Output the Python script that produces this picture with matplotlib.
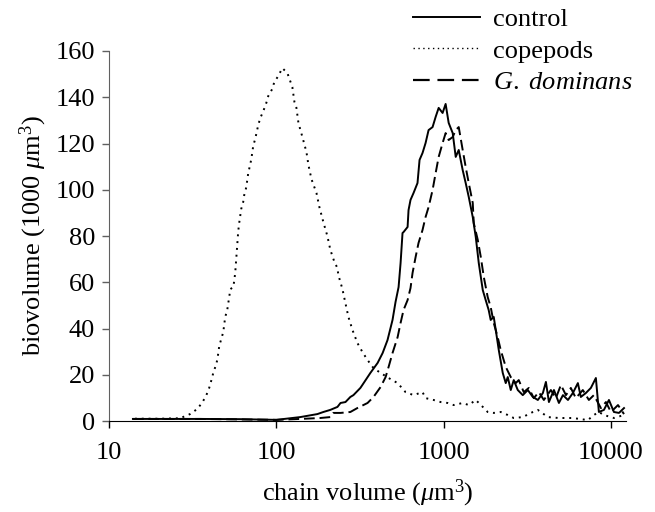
import matplotlib
matplotlib.use('Agg')
import matplotlib.pyplot as plt
from matplotlib.lines import Line2D

plt.rcParams['font.family'] = ['Liberation Serif', 'DejaVu Serif']
plt.rcParams['mathtext.fontset'] = 'custom'
plt.rcParams['mathtext.rm'] = 'Liberation Serif'
plt.rcParams['mathtext.it'] = 'Liberation Serif:italic'

# chain volume (um^3) and biovolume (1000 um^3)
control_x = [13.9, 20.2, 35.1, 60.8, 100, 139, 176, 191, 210, 232, 242, 259, 277, 289,
             318, 327, 365, 403, 432, 462, 495, 516, 538, 553, 568, 576, 609, 617, 634,
             661, 698, 718, 748, 780, 813, 859, 896, 934, 986, 1028, 1072, 1133, 1181,
             1231, 1300, 1355, 1413, 1493, 1556, 1622, 1714, 1784, 1859, 1911, 1993,
             2049, 2136, 2256, 2351, 2417, 2519, 2625, 2774, 2972, 3185, 3413, 3657,
             3919, 4086, 4259, 4564, 4887, 5166, 5535, 5921, 6345, 6607, 7079, 7586,
             8128, 8472, 9078, 9727, 10420, 11170, 11970]
control_y = [0.9, 0.9, 0.9, 0.8, 0.5, 1.7, 3.0, 3.9, 4.8, 6.1, 7.8, 8.2, 10.4, 11.2,
             14.3, 15.6, 20.8, 25.1, 29.4, 35.0, 43.7, 51.5, 57.9, 68.3, 81.3, 81.7,
             83.9, 91.2, 95.6, 98.6, 102.9, 112.9, 115.9, 120.2, 125.8, 127.1, 131.5,
             135.4, 133.2, 137.1, 128.9, 124.5, 114.2, 117.2, 108.5, 102.9, 96.9, 88.2,
             79.6, 68.3, 56.6, 52.3, 48.0, 43.7, 45.0, 39.4, 30.7, 20.8, 16.4, 19.0,
             13.4, 17.7, 13.4, 11.2, 13.4, 10.4, 9.1, 12.1, 16.9, 8.2, 13.4, 7.8, 11.2,
             9.1, 12.1, 16.4, 10.4, 12.1, 14.3, 18.6, 3.9, 4.8, 9.1, 3.9, 3.5, 5.6]

copepods_x = [14.3, 20.2, 26.6, 30.5, 33.7, 36.1, 38.1, 39.7, 40.8, 42.0, 43.2, 44.4,
              45.6, 46.9, 48.2, 49.5, 50.9, 52.4, 53.1, 55.4, 56.1, 56.8, 57.6, 58.4,
              59.2, 60.0, 61.7, 63.4, 64.3, 66.1, 67.9, 70.8, 72.8, 74.8, 78.0, 80.2,
              83.6, 87.1, 89.5, 94.6, 97.3, 102.8, 108.6, 116.4, 124.7, 128.3, 131.9,
              135.6, 143.2, 151.4, 155.6, 162.2, 173.8, 180.9, 191.1, 201.9, 210.4,
              222.4, 231.7, 235.0, 248.3, 258.8, 269.8, 285.1, 305.5, 327.3, 350.8,
              380.8, 419.8, 468.8, 531, 592, 661, 748, 780, 871, 960, 1057, 1148, 1300,
              1413, 1556, 1714, 1834, 1993, 2194, 2417, 2625, 2972, 3413, 3657, 4199,
              4887, 5921, 7280, 7907, 8472, 9078, 10420, 11970]
copepods_y = [1.0, 1.0, 1.2, 3.0, 5.2, 8.0, 11.0, 14.3, 17.3, 20.8, 23.4, 26.4, 32.4,
              35.5, 38.5, 45.0, 48.0, 54.0, 57.0, 58.0, 61.0, 64.0, 70.0, 76.0, 82.0,
              85.6, 91.7, 94.7, 97.7, 101.0, 107.0, 113.0, 119.0, 122.0, 128.0, 131.0,
              134.0, 137.5, 140.5, 143.6, 146.6, 149.2, 152.6, 150.5, 144.4, 138.0,
              135.4, 128.9, 122.8, 116.3, 110.7, 104.6, 98.6, 92.5, 86.0, 80.0, 74.0,
              68.8, 66.2, 63.1, 57.1, 51.0, 45.0, 39.4, 33.7, 29.8, 26.4, 22.9, 20.8,
              18.6, 16.4, 12.5, 11.2, 12.5, 9.9, 9.1, 8.2, 7.8, 6.9, 7.8, 6.9, 9.1, 6.1,
              3.9, 3.5, 3.9, 2.6, 1.3, 1.7, 3.9, 4.8, 1.7, 1.3, 1.3, 0.4, 2.6, 3.9, 2.6,
              1.3, 2.6]

dominans_x = [13.9, 35.1, 100, 139, 183, 210, 219, 242, 277, 305, 351, 381, 420, 450,
              469, 495, 531, 553, 576, 609, 634, 652, 680, 708, 748, 780, 813, 859, 896,
              934, 986, 1028, 1072, 1133, 1181, 1231, 1300, 1355, 1413, 1493, 1514,
              1600, 1668, 1738, 1834, 1911, 1993, 2104, 2194, 2351, 2519, 2698, 2812,
              3013, 3228, 3459, 3707, 3972, 4375, 4688, 5023, 5383, 5758, 6170, 6792,
              7380, 7907, 8710, 9333, 10000, 11020, 11970]
dominans_y = [0.9, 0.9, 0.5, 0.9, 1.3, 1.7, 3.5, 3.5, 3.9, 5.6, 7.8, 10.4, 14.7, 19.0,
              23.4, 29.4, 36.3, 42.4, 48.0, 52.3, 57.5, 64.0, 70.9, 77.0, 82.6, 88.2,
              92.5, 99.9, 107.2, 114.2, 120.2, 124.5, 121.5, 122.8, 125.8, 127.1, 117.2,
              109.8, 102.9, 94.3, 85.6, 78.3, 70.9, 62.3, 53.6, 49.3, 42.4, 36.3, 30.7,
              23.4, 19.0, 16.4, 17.7, 12.5, 14.3, 9.9, 12.5, 9.1, 13.4, 9.9, 15.6, 11.2,
              14.3, 9.9, 13.4, 9.1, 11.2, 5.6, 8.2, 3.9, 6.9, 3.0]

yticks = [0, 20, 40, 60, 80, 100, 120, 140, 160]
xticks = [10, 100, 1000, 10000]
xticklabels = ['10', '100', '1000', '10000']
labels = ['control', 'copepods', '$\\it{G.\\ dominans}$']

fs = 19

fig = plt.figure(figsize=(6.55, 5.12), dpi=100)
ax = fig.add_axes([0.1664, 0.1777, 0.7893, 0.7227])

ax.plot(control_x, control_y, color='black', lw=1.4)
ax.plot(copepods_x, copepods_y, color='black', lw=1.4, linestyle=(0, (1, 2.5)))
ax.plot(dominans_x, dominans_y, color='black', lw=1.4, linestyle=(0, (5.5, 2.5)))

ax.set_xscale('log')
ax.set_xlim(10, 12300)
ax.set_ylim(0, 160)
ax.set_xticks(xticks)
ax.set_xticklabels(xticklabels)
ax.minorticks_off()
ax.set_yticks(yticks)

for side in ['top', 'right']:
    ax.spines[side].set_visible(False)
ax.spines['left'].set_color('#606060')
ax.spines['bottom'].set_color('black')
ax.tick_params(axis='both', labelsize=fs, direction='out', length=5, width=1)
ax.tick_params(axis='x', pad=10)
ax.tick_params(axis='y', pad=5, color='#606060')

ax.set_xlabel('chain volume ($\\mu$m$^3$)', fontsize=fs, labelpad=10)
ax.set_ylabel('biovolume (1000 $\\mu$m$^3$)', fontsize=fs, labelpad=5)

# legend handles with the longer dashes of the original key
handles = [Line2D([], [], color='black', lw=1.4),
           Line2D([], [], color='black', lw=1.0, linestyle=(0, (1, 2.5))),
           Line2D([], [], color='black', lw=1.6, linestyle=(0, (7.5, 3.5)))]
fig.legend(handles, labels, loc='upper left', bbox_to_anchor=(0.63, 0.985),
           bbox_transform=fig.transFigure, frameon=False, fontsize=fs,
           handlelength=2.55, handletextpad=0.5, labelspacing=0.3,
           borderpad=0, borderaxespad=0)

plt.savefig('out.png', dpi=100)
